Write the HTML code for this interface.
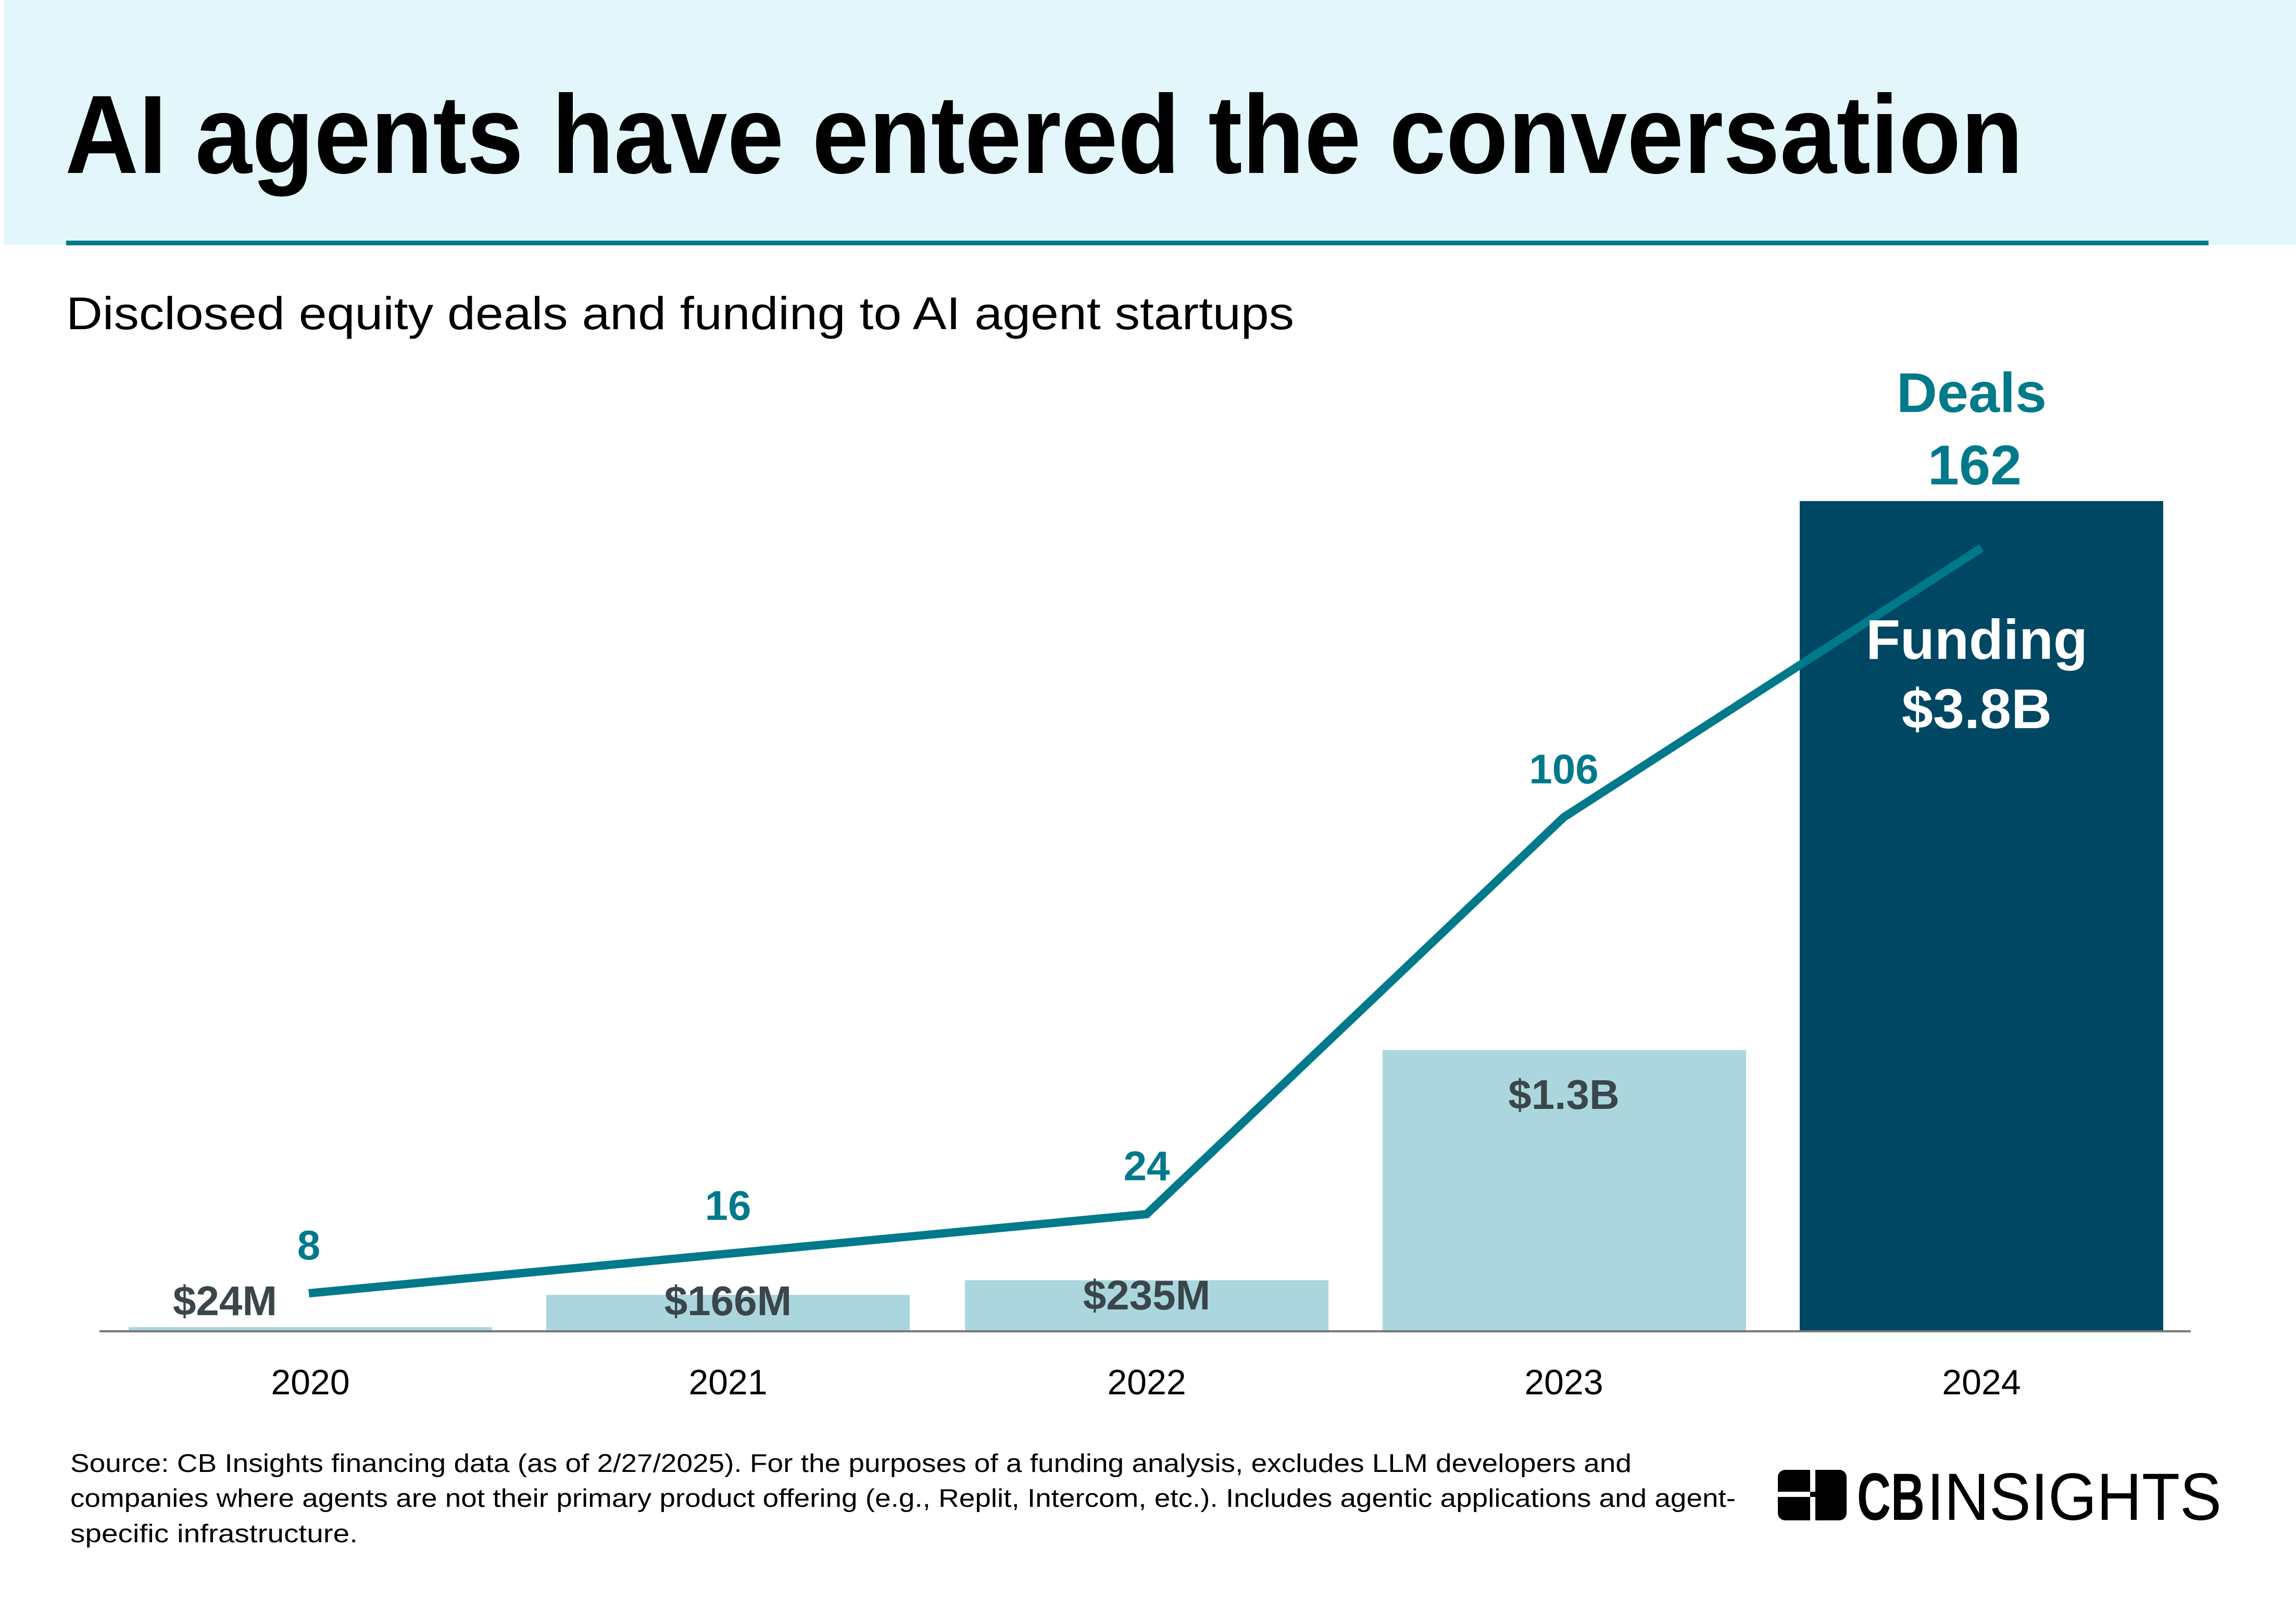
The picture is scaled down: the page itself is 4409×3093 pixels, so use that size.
<!DOCTYPE html>
<html><head><meta charset="utf-8"><style>
html,body{margin:0;padding:0;background:#fff;}
body{width:4409px;height:3093px;position:relative;overflow:hidden;font-family:"Liberation Sans",sans-serif;}
</style></head><body>
<svg width="4409" height="3093" viewBox="0 0 4409 3093" xmlns="http://www.w3.org/2000/svg" style="position:absolute;left:0;top:0">
<rect x="8" y="0" width="4401" height="470" fill="#e3f6fa"/>
<rect x="127" y="462" width="4114" height="9" fill="#007a8a"/>
<text x="125" y="332" font-size="214" font-weight="bold" fill="#000" textLength="3760" lengthAdjust="spacingAndGlyphs">AI agents have entered the conversation</text>
<text x="127" y="632" font-size="88" fill="#000" textLength="2358" lengthAdjust="spacingAndGlyphs">Disclosed equity deals and funding to AI agent startups</text>
<g fill="#acd6de">
<rect x="247" y="2548" width="698" height="8"/>
<rect x="1049" y="2486" width="698" height="70"/>
<rect x="1853" y="2458" width="698" height="98"/>
<rect x="2655" y="2016" width="698" height="540"/>
</g>
<rect x="3456" y="962" width="698" height="1594" fill="#004763"/>
<rect x="191" y="2554" width="4016" height="4" fill="#777"/>
<polyline points="593,2483 1398,2407 2202,2331 3003,1569 3805,1052" fill="none" stroke="#007a8a" stroke-width="16"/>
<g font-weight="bold" font-size="80" fill="#007a8a" text-anchor="middle">
<text x="593" y="2418">8</text>
<text x="1398" y="2342">16</text>
<text x="2202" y="2266">24</text>
<text x="3003" y="1504">106</text>
<text x="3786" y="791" font-size="108">Deals</text>
<text x="3792" y="930" font-size="108">162</text>
</g>
<g font-weight="bold" font-size="80" fill="#3a4649" text-anchor="middle">
<text x="432" y="2525">$24M</text>
<text x="1398" y="2525">$166M</text>
<text x="2202" y="2514">$235M</text>
<text x="3003" y="2129">$1.3B</text>
</g>
<g font-weight="bold" font-size="108" fill="#fff" text-anchor="middle">
<text x="3796" y="1265">Funding</text>
<text x="3796" y="1398">$3.8B</text>
</g>
<g font-size="68" fill="#000" text-anchor="middle">
<text x="596" y="2677">2020</text>
<text x="1398" y="2677">2021</text>
<text x="2202" y="2677">2022</text>
<text x="3003" y="2677">2023</text>
<text x="3805" y="2677">2024</text>
</g>
<g font-size="49" fill="#000">
<text x="135" y="2826" textLength="2998" lengthAdjust="spacingAndGlyphs">Source: CB Insights financing data (as of 2/27/2025). For the purposes of a funding analysis, excludes LLM developers and</text>
<text x="135" y="2893" textLength="3198" lengthAdjust="spacingAndGlyphs">companies where agents are not their primary product offering (e.g., Replit, Intercom, etc.). Includes agentic applications and agent-</text>
<text x="135" y="2961" textLength="552" lengthAdjust="spacingAndGlyphs">specific infrastructure.</text>
</g>
<g>
<rect x="3414" y="2822" width="132" height="97" rx="14" fill="#000"/>
<rect x="3414" y="2864" width="132" height="10" fill="#fff"/>
<rect x="3476" y="2822" width="10" height="97" fill="#fff"/>
<rect x="3476" y="2864" width="70" height="10" fill="#000"/>
<text x="3566" y="2918" font-size="128" fill="#000" font-weight="bold" textLength="130" lengthAdjust="spacingAndGlyphs">CB</text>
<text x="3700" y="2918" font-size="128" fill="#000" textLength="566" lengthAdjust="spacingAndGlyphs">INSIGHTS</text>
</g>
</svg>
</body></html>
